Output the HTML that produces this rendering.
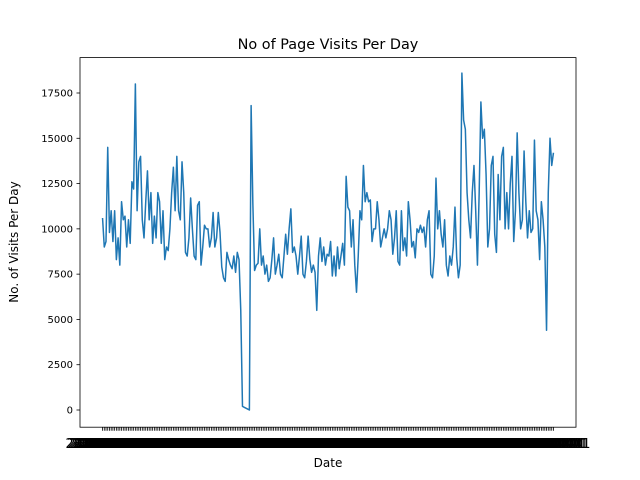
<!DOCTYPE html>
<html><head><meta charset="utf-8"><style>
body{margin:0;background:#fff}
svg{display:block;font-family:"DejaVu Sans","Liberation Sans",sans-serif}
</style></head><body>
<svg id="chart" width="640" height="480" viewBox="0 0 640 480">
<rect x="0" y="0" width="640" height="480" fill="#fff"/>
<text x="328" y="49" font-size="14.4" text-anchor="middle">No of Page Visits Per Day</text>
<text x="328" y="467" font-size="12" text-anchor="middle">Date</text>
<text x="18" y="242" font-size="12" text-anchor="middle" transform="rotate(-90 18 242)">No. of Visits Per Day</text>
<g id="yaxis"></g>
<g id="xaxis"></g>
<path id="line" fill="none" stroke="#1f77b4" stroke-width="1.5" stroke-linejoin="round"/>
<rect x="80" y="57.6" width="496" height="369.6" fill="none" stroke="#000" stroke-width="0.8"/>
</svg>
<script>
const visits = [10.6,9.0,9.3,14.5,9.8,11.0,9.3,11.0,8.3,9.5,8.0,11.5,10.5,10.7,9.0,10.5,9.2,12.6,12.2,18.0,11.0,13.7,14.0,10.5,9.5,11.5,13.2,10.5,12.0,9.2,10.7,9.5,12.0,11.5,9.2,11.0,
8.3,9.0,8.8,10.0,12.0,13.4,11.0,14.0,11.0,10.5,13.7,12.0,8.7,8.5,9.5,11.7,10.0,8.5,8.3,11.3,11.5,8.0,9.0,10.2,10.0,10.0,9.0,9.5,10.9,9.0,9.5,10.9,9.8,7.9,7.3,7.1,8.7,8.3,8.0,7.8,8.5,7.6,8.7,8.3,5.5,0.2,0.15,0.1,0.05,0.0,16.8,11.4,
7.7,8.0,8.1,10.0,8.0,8.5,7.5,8.0,7.1,7.3,8.3,9.5,7.5,8.0,8.6,7.5,7.3,8.5,9.7,8.6,10.0,11.1,8.7,9.0,8.5,7.5,8.5,9.6,7.5,7.3,8.2,9.6,8.3,7.6,8.0,7.6,5.5,8.5,9.5,8.2,9.0,8.0,8.6,8.5,9.3,7.4,8.5,7.4,9.0,7.8,8.5,9.2,8.0,12.9,
11.2,11.0,9.0,10.5,8.0,6.5,8.5,11.0,10.5,13.5,11.5,12.0,11.5,11.6,9.3,10.0,10.0,11.5,10.5,9.0,9.5,10.0,9.5,10.0,11.0,10.5,8.6,9.5,11.0,8.2,8.0,11.0,8.8,9.5,8.5,11.5,10.5,9.0,9.3,8.4,10.0,9.8,10.2,9.8,10.1,9.0,10.5,11.0,7.5,7.3,8.5,12.8,10.0,11.0,9.7,9.0,
10.5,8.0,7.4,8.5,8.0,9.0,11.2,8.4,7.3,8.0,18.6,16.0,15.5,12.0,10.5,9.5,12.0,13.5,11.0,8.0,12.0,17.0,15.0,15.5,13.0,9.0,10.0,13.5,14.0,9.7,8.7,13.0,10.5,14.0,14.5,10.0,12.0,10.0,12.5,14.0,9.3,11.0,15.3,12.0,10.0,10.5,14.3,11.5,9.5,11.0,9.8,10.0,14.9,11.0,10.5,8.3,11.5,10.5,9.0,4.4,12.0,15.0,13.5,14.2];
const yTicks = [0,2500,5000,7500,10000,12500,15000,17500];
const NS='http://www.w3.org/2000/svg';
const n = visits.length;
const x0=80, x1=576, y1=427.2;
function xs(i){return x0+(x1-x0)*0.05/1.1 + i*((x1-x0)/1.1)/(n-1);}
function ys(v){return 410 - v*(317/17500);}
const ya=document.getElementById('yaxis');
yTicks.forEach(t=>{
  const l=document.createElementNS(NS,'line');
  
  
  l.setAttribute('x1',x0-3.5);l.setAttribute('x2',x0);l.setAttribute('y1',ys(t));l.setAttribute('y2',ys(t));
  l.setAttribute('stroke','#000');l.setAttribute('stroke-width','0.8');ya.appendChild(l);
  const tx=document.createElementNS(NS,'text');
  
  
  tx.setAttribute('x',x0-7);tx.setAttribute('y',ys(t)+3.5);tx.setAttribute('font-size','10');tx.setAttribute('text-anchor','end');
  tx.textContent=t;ya.appendChild(tx);
});
const xa=document.getElementById('xaxis');
for(let i=0;i<n;i++){
  const x=xs(i);
  const l=document.createElementNS(NS,'line');
  
  
  l.setAttribute('x1',x);l.setAttribute('x2',x);l.setAttribute('y1',y1);l.setAttribute('y2',y1+3.5);
  l.setAttribute('stroke','#000');l.setAttribute('stroke-width','0.8');xa.appendChild(l);
  const tx=document.createElementNS(NS,'text');
  
  
  tx.setAttribute('x',x-37);tx.setAttribute('y',448);tx.setAttribute('font-size','13');
  tx.setAttribute('textLength','74');tx.setAttribute('lengthAdjust','spacingAndGlyphs');
  tx.textContent='2018-01-01';xa.appendChild(tx);
}
let d='';
visits.forEach((v,i)=>{d+=(i?'L':'M')+xs(i).toFixed(2)+' '+ys(v*1000).toFixed(2);});
document.getElementById('line').setAttribute('d',d);
</script>
</body></html>
